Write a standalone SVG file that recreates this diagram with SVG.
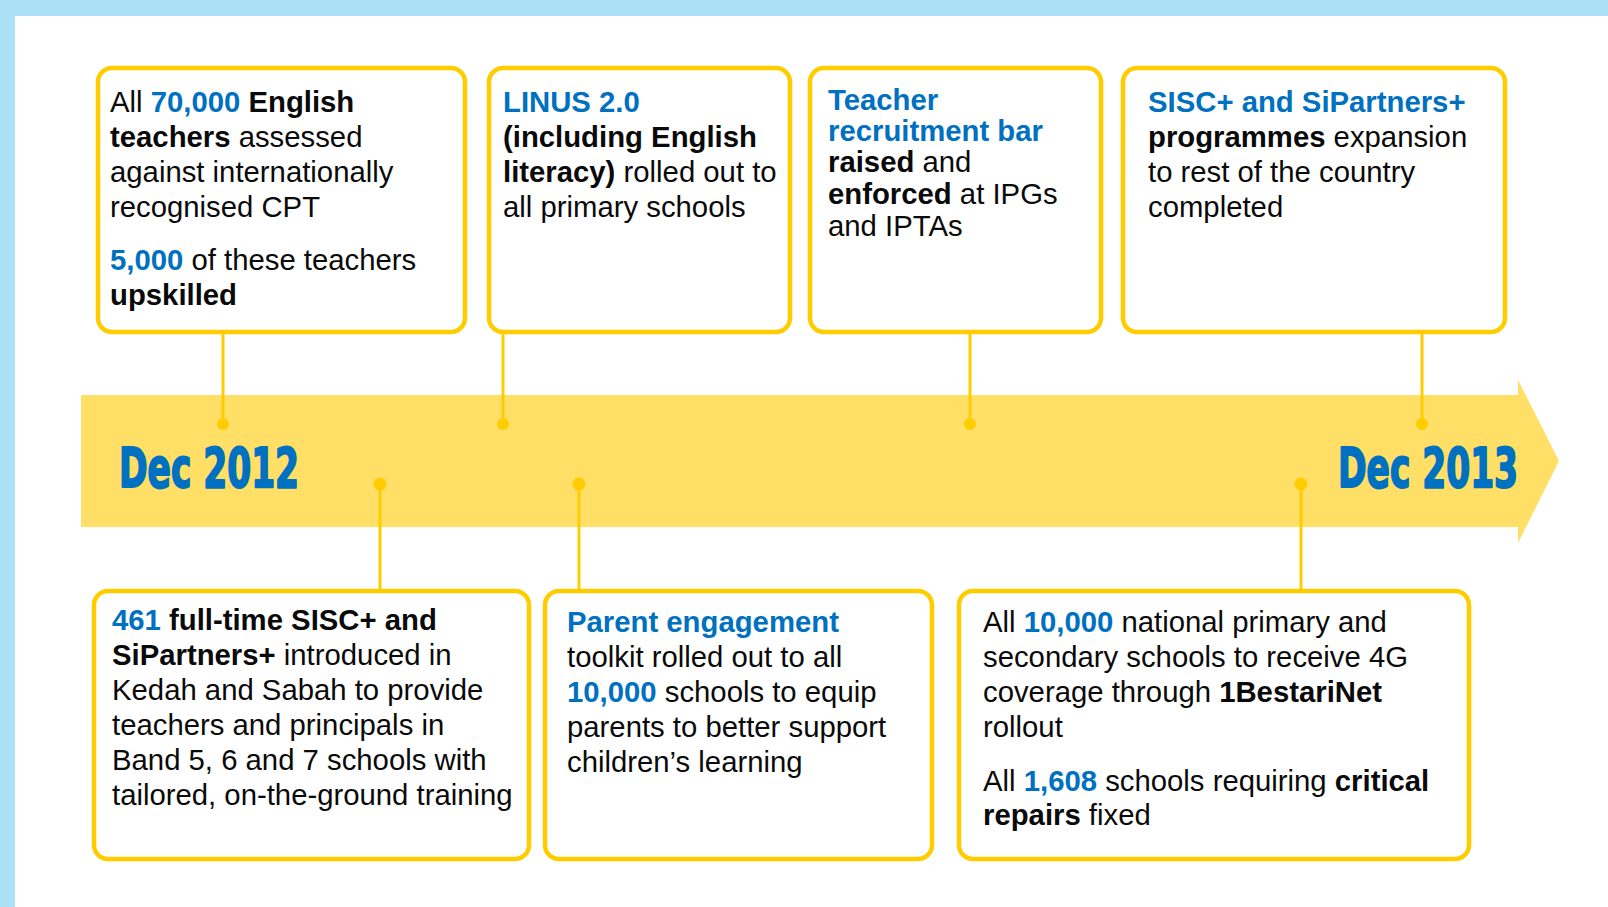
<svg xmlns="http://www.w3.org/2000/svg" width="1608" height="907" viewBox="0 0 1608 907">
<style>
.box{fill:#FFFFFF;stroke:#FFCC00;stroke-width:4.5}
.t{font-family:"Liberation Sans",Arial,sans-serif;font-size:29.3px;fill:#0A0A0A}
.b{font-weight:bold}
.h{font-weight:bold;fill:#0070C0}
.date{font-family:"Liberation Sans Narrow","DejaVu Sans Condensed","Liberation Sans",sans-serif;font-weight:bold;font-size:56px;fill:#0070C0;stroke:#0070C0;stroke-width:2;stroke-linejoin:round}
.conn{stroke:#FFCC00;stroke-width:3;fill:none}
.dot{fill:#FFCC00}
</style>
<rect x="0" y="0" width="1608" height="907" fill="#ABE0F6"/>
<rect x="15" y="16" width="1593" height="891" fill="#FFFFFF"/>
<g id="timeline">
<polygon points="81,395 1518,395 1518,380 1559,461 1518,543 1518,527 81,527" fill="#FFDF66"/>
<text class="date" x="119" y="487" textLength="180" lengthAdjust="spacingAndGlyphs">Dec 2012</text>
<text class="date" x="1338" y="487" textLength="180" lengthAdjust="spacingAndGlyphs">Dec 2013</text>
</g>
<g id="connectors">
<line class="conn" x1="223" y1="334" x2="223" y2="424"/>
<circle class="dot" cx="223" cy="424" r="6"/>
<line class="conn" x1="503" y1="334" x2="503" y2="424"/>
<circle class="dot" cx="503" cy="424" r="6"/>
<line class="conn" x1="970" y1="334" x2="970" y2="424"/>
<circle class="dot" cx="970" cy="424" r="6"/>
<line class="conn" x1="1422" y1="334" x2="1422" y2="424"/>
<circle class="dot" cx="1422" cy="424" r="6"/>
<line class="conn" x1="380" y1="484" x2="380" y2="590"/>
<circle class="dot" cx="380" cy="484" r="6.5"/>
<line class="conn" x1="579" y1="484" x2="579" y2="590"/>
<circle class="dot" cx="579" cy="484" r="6.5"/>
<line class="conn" x1="1301" y1="484" x2="1301" y2="590"/>
<circle class="dot" cx="1301" cy="484" r="6.5"/>
</g>
<g id="node-t1">
<rect class="box" x="98" y="68" width="367" height="264" rx="14"/>
<text class="t" x="110" y="112">All <tspan class="h">70,000</tspan> <tspan class="b">English</tspan></text>
<text class="t" x="110" y="147"><tspan class="b">teachers</tspan> assessed</text>
<text class="t" x="110" y="182">against internationally</text>
<text class="t" x="110" y="217">recognised CPT</text>
<text class="t" x="110" y="270"><tspan class="h">5,000</tspan> of these teachers</text>
<text class="t" x="110" y="305"><tspan class="b">upskilled</tspan></text>
</g>
<g id="node-t2">
<rect class="box" x="489" y="68" width="301" height="264" rx="14"/>
<text class="t" x="503" y="112"><tspan class="h">LINUS 2.0</tspan></text>
<text class="t" x="503" y="147"><tspan class="b">(including English</tspan></text>
<text class="t" x="503" y="182"><tspan class="b">literacy)</tspan> rolled out to</text>
<text class="t" x="503" y="217">all primary schools</text>
</g>
<g id="node-t3">
<rect class="box" x="810" y="68" width="291" height="264" rx="14"/>
<text class="t" x="828" y="110"><tspan class="h">Teacher</tspan></text>
<text class="t" x="828" y="141"><tspan class="h">recruitment bar</tspan></text>
<text class="t" x="828" y="172"><tspan class="b">raised</tspan> and</text>
<text class="t" x="828" y="204"><tspan class="b">enforced</tspan> at IPGs</text>
<text class="t" x="828" y="236">and IPTAs</text>
</g>
<g id="node-t4">
<rect class="box" x="1123" y="68" width="382" height="264" rx="14"/>
<text class="t" x="1148" y="112"><tspan class="h">SISC+ and SiPartners+</tspan></text>
<text class="t" x="1148" y="147"><tspan class="b">programmes</tspan> expansion</text>
<text class="t" x="1148" y="182">to rest of the country</text>
<text class="t" x="1148" y="217">completed</text>
</g>
<g id="node-b1">
<rect class="box" x="94" y="591" width="435" height="268" rx="14"/>
<text class="t" x="112" y="630"><tspan class="h">461</tspan> <tspan class="b">full-time SISC+ and</tspan></text>
<text class="t" x="112" y="665"><tspan class="b">SiPartners+</tspan> introduced in</text>
<text class="t" x="112" y="700">Kedah and Sabah to provide</text>
<text class="t" x="112" y="735">teachers and principals in</text>
<text class="t" x="112" y="770">Band 5, 6 and 7 schools with</text>
<text class="t" x="112" y="805">tailored, on-the-ground training</text>
</g>
<g id="node-b2">
<rect class="box" x="545" y="591" width="387" height="268" rx="14"/>
<text class="t" x="567" y="632"><tspan class="h">Parent engagement</tspan></text>
<text class="t" x="567" y="667">toolkit rolled out to all</text>
<text class="t" x="567" y="702"><tspan class="h">10,000</tspan> schools to equip</text>
<text class="t" x="567" y="737">parents to better support</text>
<text class="t" x="567" y="772">children’s learning</text>
</g>
<g id="node-b3">
<rect class="box" x="959" y="591" width="510" height="268" rx="14"/>
<text class="t" x="983" y="632">All <tspan class="h">10,000</tspan> national primary and</text>
<text class="t" x="983" y="667">secondary schools to receive 4G</text>
<text class="t" x="983" y="702">coverage through <tspan class="b">1BestariNet</tspan></text>
<text class="t" x="983" y="737">rollout</text>
<text class="t" x="983" y="791">All <tspan class="h">1,608</tspan> schools requiring <tspan class="b">critical</tspan></text>
<text class="t" x="983" y="825"><tspan class="b">repairs</tspan> fixed</text>
</g>
</svg>
